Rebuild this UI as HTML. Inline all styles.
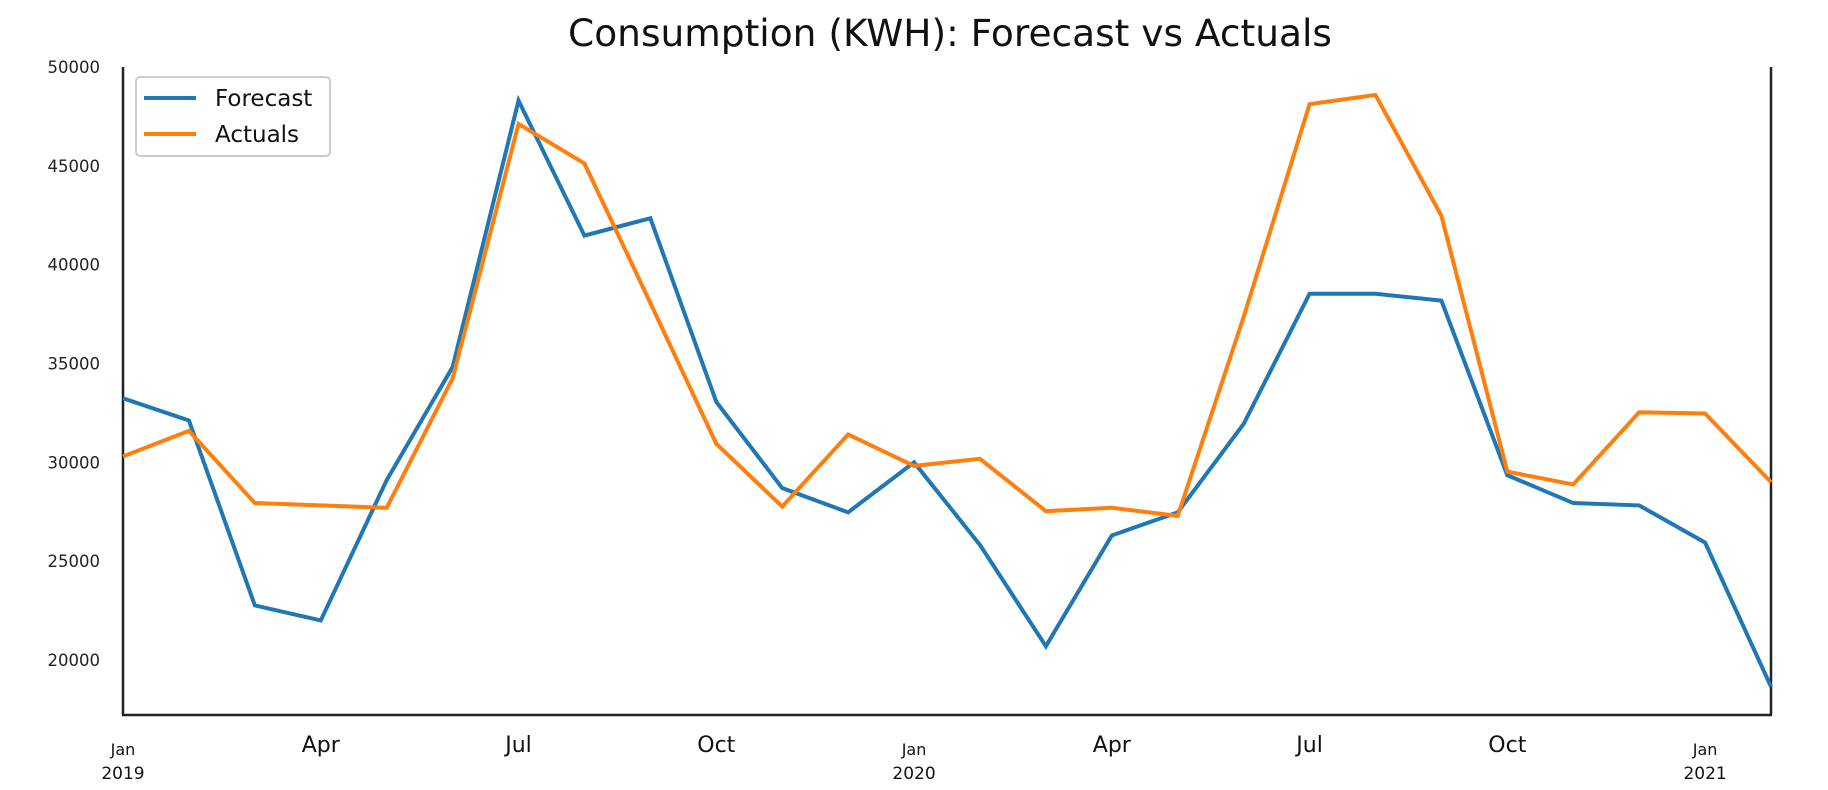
<!DOCTYPE html>
<html><head><meta charset="utf-8"><style>
body{margin:0;background:#fff;}
svg{display:block;font-family:"DejaVu Sans","Liberation Sans",sans-serif;}
</style></head><body>
<svg id="chart" width="1828" height="790">
<text x="950" y="46" font-size="37.5" text-anchor="middle" fill="#111">Consumption (KWH): Forecast vs Actuals</text>
<g id="axes"></g>
<g id="series"></g>
<g>
<rect x="136" y="77" width="194" height="79" rx="4" fill="#fff" stroke="#ccc" stroke-width="2"/>
<line x1="144" y1="98" x2="196" y2="98" stroke="#1f77b4" stroke-width="4"/>
<text x="215" y="106" font-size="23" fill="#111">Forecast</text>
<line x1="144" y1="134" x2="196" y2="134" stroke="#ff7f0e" stroke-width="4"/>
<text x="215" y="142" font-size="23" fill="#111">Actuals</text>
</g>
</svg>
<script>
const months = ["2019-01","2019-02","2019-03","2019-04","2019-05","2019-06","2019-07","2019-08","2019-09","2019-10","2019-11","2019-12","2020-01","2020-02","2020-03","2020-04","2020-05","2020-06","2020-07","2020-08","2020-09","2020-10","2020-11","2020-12","2021-01","2021-02"];
const forecast = [33240,32120,22760,22000,29100,34820,48300,41470,42350,33060,28700,27470,30000,25820,20700,26300,27470,31940,38530,38530,38180,29350,27940,27820,25940,18650];
const actuals = [30300,31590,27940,27820,27700,34240,47120,45120,38060,30940,27760,31410,29820,30180,27530,27700,27290,37350,48120,48590,42470,29530,28880,32530,32470,29000];
const yTicks = [20000,25000,30000,35000,40000,45000,50000];
const xTickIdx = [0,3,6,9,12,15,18,21,24];
const xTickLabels = ["Jan","Apr","Jul","Oct","Jan","Apr","Jul","Oct","Jan"];
const yearLabels = ["2019","","","","2020","","","","2021"];

const L=123,R=1771,T=67,B=715;
const x=i=>L+(R-L)*i/(months.length-1);
const y=v=>660-(v-20000)*(660-67)/30000;
const NS="http://www.w3.org/2000/svg";
const axes=document.getElementById('axes'), series=document.getElementById('series');
function mk(tag,attrs,parent){const e=document.createElementNS(NS,tag);for(const k in attrs)e.setAttribute(k,attrs[k]);parent.appendChild(e);return e;}

let e=mk('line',{x1:L,y1:T,x2:L,y2:B,stroke:'#222','stroke-width':2.5},axes);


e=mk('line',{x1:R,y1:T,x2:R,y2:B,stroke:'#222','stroke-width':2.5},axes);


e=mk('line',{x1:L-1,y1:B,x2:R+1,y2:B,stroke:'#222','stroke-width':2.5},axes);



yTicks.forEach(v=>{
  const t=mk('text',{x:100,y:y(v)+6,'font-size':16.5,'text-anchor':'end',fill:'#222'},axes);
  t.textContent=v;
  
  
});
xTickIdx.forEach((i,k)=>{
  const isJan=xTickLabels[k]==="Jan";
  const t=mk('text',{x:x(i),y:isJan?755:752,'font-size':isJan?16:22,'text-anchor':'middle',fill:'#111'},axes);
  t.textContent=xTickLabels[k];
  
  
  if(yearLabels[k]){
    const yt=mk('text',{x:x(i),y:779,'font-size':17,'text-anchor':'middle',fill:'#111'},axes);
    yt.textContent=yearLabels[k];
    
    
  }
});
function line(data,color,name){
  const p=mk('polyline',{points:data.map((v,i)=>x(i)+','+y(v)).join(' '),fill:'none',stroke:color,'stroke-width':4,'stroke-linejoin':'miter'},series);
  
  
}
line(forecast,'#1f77b4','forecast-line');
line(actuals,'#ff7f0e','actuals-line');
</script>
</body></html>
